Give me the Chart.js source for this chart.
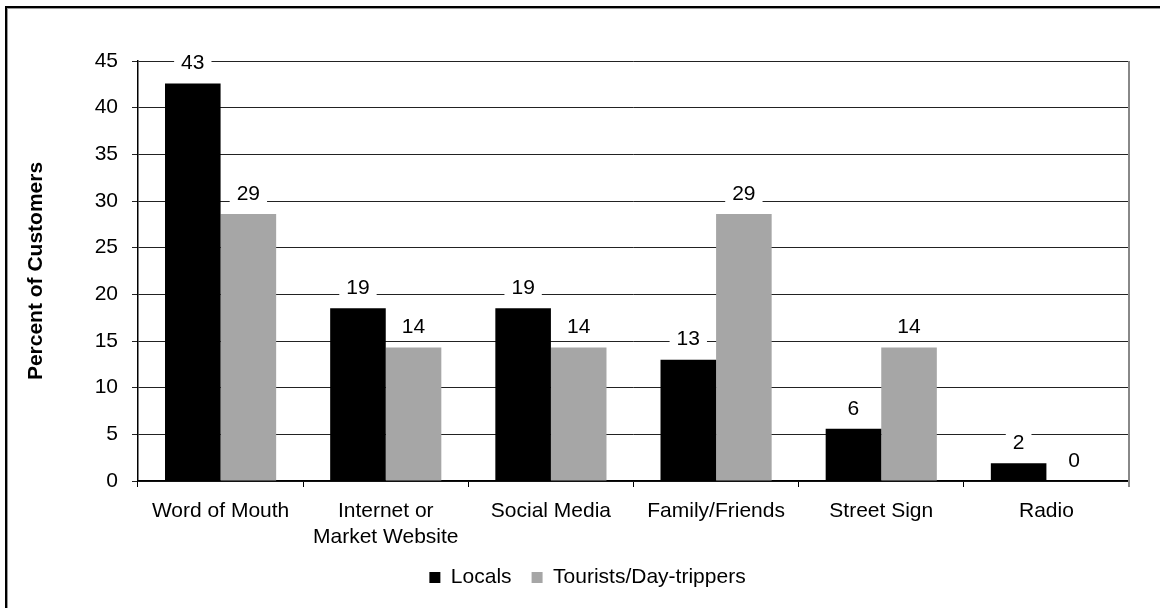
<!DOCTYPE html>
<html>
<head>
<meta charset="utf-8">
<script src="https://cdn.jsdelivr.net/npm/chart.js@4.4.1/dist/chart.umd.min.js"></script>
<style>
  html, body { margin: 0; padding: 0; background: #fff; }
  #wrap { position: relative; width: 1160px; height: 608px; overflow: hidden; }
  #frame {
    position: absolute; left: 5px; top: 6px; width: 1300px; height: 800px;
    border-left: 2px solid #000; border-top: 2px solid #000;
    box-shadow: inset 1px 1px 0 #999;
  }
  canvas { position: absolute; left: 0; top: 0; }
</style>
</head>
<body>
<div id="wrap">
  <div id="frame"></div>
  <canvas id="chart" width="1160" height="608"></canvas>
</div>
<script>
// --------------
// DATA
// --------------
const categories = ["Word of Mouth", ["Internet or", "Market Website"], "Social Media", "Family/Friends", "Street Sign", "Radio"];
const locals = [42.6, 18.5, 18.5, 13.0, 5.6, 1.9];
const tourists = [28.6, 14.3, 14.3, 28.6, 14.3, 0];
const seriesNames = ["Locals", "Tourists/Day-trippers"];
const yTicksMax = 45;
const yTicksStep = 5;

const FONT = "'Liberation Sans', Arial, sans-serif";
const FS = 21;

// value labels with white background above each bar
const valueLabels = {
  id: 'valueLabels',
  afterDatasetsDraw(chart) {
    const ctx = chart.ctx;
    ctx.save();
    ctx.font = `${FS}px ${FONT}`;
    ctx.textAlign = 'center';
    ctx.textBaseline = 'middle';
    chart.data.datasets.forEach((ds, di) => {
      const meta = chart.getDatasetMeta(di);
      meta.data.forEach((bar, i) => {
        const txt = String(Math.round(ds.data[i]));
        const y = bar.y - 21;
        const w = ctx.measureText(txt).width + 14;
        ctx.fillStyle = '#fff';
        ctx.fillRect(bar.x - w / 2, y - 11, w, 22);
        ctx.fillStyle = '#000';
        ctx.fillText(txt, bar.x, y + 1);
      });
    });
    ctx.restore();
  }
};

// gray right edge of the plot area, and legend nudged to where the original sits
const plotEdge = {
  id: 'plotEdge',
  afterLayout(chart) {
    if (chart.legend) {
      chart.legend.left += 23;
      chart.legend.right += 23;
    }
  },
  afterDraw(chart) {
    const {ctx, chartArea} = chart;
    ctx.save();
    ctx.strokeStyle = '#888';
    ctx.lineWidth = 2;
    ctx.beginPath();
    ctx.moveTo(chartArea.right, chartArea.top);
    ctx.lineTo(chartArea.right, chartArea.bottom + 6);
    ctx.stroke();
    ctx.restore();
  }
};

new Chart(document.getElementById('chart'), {
  type: 'bar',
  data: {
    labels: categories,
    datasets: [
      { label: seriesNames[0], data: locals, backgroundColor: '#000000' },
      { label: seriesNames[1], data: tourists, backgroundColor: '#a6a6a6' }
    ]
  },
  options: {
    responsive: false,
    animation: false,
    devicePixelRatio: 1,
    datasets: { bar: { categoryPercentage: 0.673, barPercentage: 1.0 } },
    layout: { padding: { left: 0, right: 31, top: 61, bottom: 10 } },
    plugins: {
      legend: {
        position: 'bottom',
        labels: {
          color: '#000',
          font: { family: FONT, size: FS },
          boxWidth: 11,
          boxHeight: 11,
          padding: 20
        }
      },
      tooltip: { enabled: false }
    },
    scales: {
      x: {
        grid: { drawOnChartArea: false, offset: true, tickLength: 6, color: '#000' },
        border: { color: '#000', width: 1.5 },
        ticks: { color: '#000', font: { family: FONT, size: FS, lineHeight: 1.24 }, padding: 11, maxRotation: 0 },
        afterFit(scale) { scale.height = 66; }
      },
      y: {
        min: 0,
        max: yTicksMax,
        ticks: { stepSize: yTicksStep, color: '#000', font: { family: FONT, size: FS }, padding: 14 },
        grid: { color: '#222', lineWidth: 1, tickLength: 6 },
        border: { color: '#000', width: 1.5 },
        title: {
          display: true,
          text: 'Percent of Customers',
          color: '#000',
          font: { family: FONT, size: FS, weight: 'bold' },
          padding: { top: 24, bottom: 0 }
        },
        afterFit(scale) { scale.width = 138; }
      }
    }
  },
  plugins: [valueLabels, plotEdge]
});
</script>
</body>
</html>
